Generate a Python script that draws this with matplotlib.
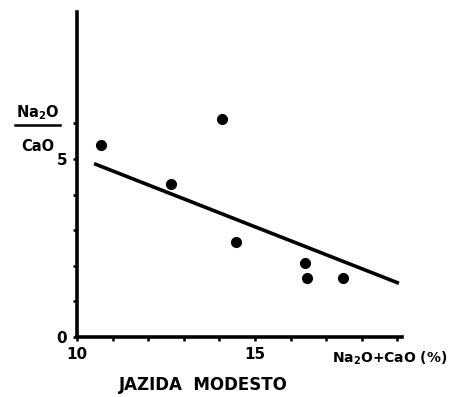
import matplotlib.pyplot as plt

plt.rcParams['font.family'] = 'DejaVu Sans'

# Dados: Na2O+CaO (%) vs Na2O/CaO
soma_pct = [10.67, 12.65, 14.06, 14.46, 16.39, 16.47, 17.48]
razao = [5.39, 4.31, 6.13, 2.68, 2.07, 1.65, 1.65]

# Reta de ajuste (extremos)
reta_x = [10.48, 19.04]
reta_y = [4.87, 1.51]

x_ticks = list(range(10, 20))
x_labels = ['10', '', '', '', '', '15', '', '', '', '']
y_ticks = list(range(0, 7))
y_labels = ['0', '', '', '', '', '5', '']

fig = plt.figure(figsize=(4.58, 3.97), dpi=100)
ax = fig.add_axes([0.168, 0.151, 0.71, 0.819])

ax.plot(reta_x, reta_y, color='black', linewidth=2.6, solid_capstyle='butt')
ax.plot(soma_pct, razao, 'o', color='black', markersize=7)

ax.set_xlim(10, 19.13)
ax.set_ylim(0, 9.13)
ax.spines['top'].set_visible(False)
ax.spines['right'].set_visible(False)
ax.spines['left'].set_linewidth(2.6)
ax.spines['bottom'].set_linewidth(2.6)

ax.set_xticks(x_ticks)
ax.set_xticklabels(x_labels, fontweight='bold', fontsize=11)
ax.set_yticks(y_ticks)
ax.set_yticklabels(y_labels, fontweight='bold', fontsize=11)
ax.tick_params(length=3, width=1.8, pad=4)

# rótulo do eixo y em forma de fração
fig.text(0.082, 0.715, 'Na$_\\mathbf{2}$O', ha='center', va='center',
         fontsize=10.5, fontweight='bold')
fig.add_artist(plt.Line2D([0.033, 0.131], [0.685, 0.685], color='black', linewidth=1.8,
                          transform=fig.transFigure))
fig.text(0.082, 0.632, 'CaO', ha='center', va='center', fontsize=10.5, fontweight='bold')

fig.text(0.85, 0.098, 'Na$_\\mathbf{2}$O+CaO (%)', ha='center', va='center',
         fontsize=10, fontweight='bold')
fig.text(0.445, 0.03, 'JAZIDA  MODESTO', ha='center', va='center',
         fontsize=12, fontweight='bold')

fig.savefig('out.png', dpi=100)
